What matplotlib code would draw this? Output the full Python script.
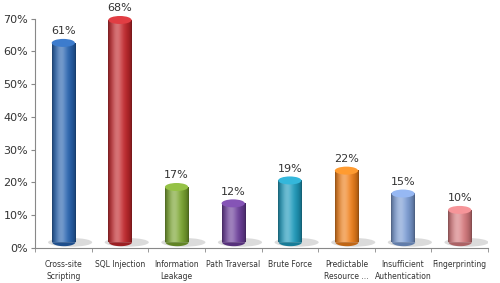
import matplotlib
matplotlib.use("Agg")
import matplotlib.pyplot as plt
import numpy as np
from matplotlib.patches import Ellipse
from matplotlib.colors import to_rgb

categories = ["Cross-site\nScripting", "SQL Injection", "Information\nLeakage",
              "Path Traversal", "Brute Force", "Predictable\nResource ...",
              "Insufficient\nAuthentication", "Fingerprinting"]
values = [61, 68, 17, 12, 19, 22, 15, 10]
colors = ["#2763b0", "#c3272c", "#7aa52f", "#6b3d9a", "#1e9bbd", "#f0801a", "#7b9cd4", "#d77a7e"]
yticks = [0, 10, 20, 30, 40, 50, 60, 70]

fig = plt.figure(figsize=(5, 2.83), dpi=100)
ax = fig.add_axes([0.07, 0.124, 0.906, 0.81])

n = len(values)
x = np.arange(n)
w = 0.41
ax.set_xlim(-0.5, n - 0.5)
ax.set_ylim(0, 70)

px_per_unit = (0.81 * 283) / 70.0
eh = 8.0 / px_per_unit  # ellipse height in data units
lift = 1.6

def shade(c, t):
    c = np.array(to_rgb(c))
    prof = np.exp(-((t - 0.38) ** 2) / 0.06)
    dark = 0.55 + 0.45 * np.sin(np.pi * t) ** 0.5
    col = c * dark[:, None]
    col = col + (1 - col) * 0.35 * prof[:, None]
    return np.clip(col, 0, 1)

for xi, v, c in zip(x, values, colors):
    y0 = lift + 0.3
    sh = Ellipse((xi + 0.12, y0 - 0.2), w * 1.9, eh * 1.1, color="#c4c4c4", alpha=0.6, zorder=1, lw=0)
    ax.add_patch(sh)
    t = np.linspace(0, 1, 64)
    img = shade(c, t)[None, :, :]
    ytop = v + lift
    im = ax.imshow(img, extent=[xi - w / 2, xi + w / 2, y0, ytop], aspect="auto", zorder=2,
                   interpolation="bilinear")
    im.set_clip_on(False)
    tt = np.linspace(0, np.pi, 40)
    ax.fill_between(xi - (w / 2) * np.cos(tt), y0, y0 - (eh / 2) * np.sin(tt),
                    color=tuple(np.array(to_rgb(c)) * 0.8), zorder=2, lw=0)
    top = Ellipse((xi, ytop), w, eh, color=tuple(np.clip(np.array(to_rgb(c)) * 1.05 + 0.08, 0, 1)),
                  zorder=3, lw=0, clip_on=False)
    ax.add_patch(top)
    ax.text(xi, ytop + eh / 2 + 0.8, f"{v}%", ha="center", va="bottom", fontsize=8, color="#333333")

ax.set_ylim(0, 70)
ax.set_yticks(yticks)
ax.set_yticklabels([f"{t}%" for t in yticks], fontsize=8, color="#333333")
ax.set_xticks(x)
ax.set_xticklabels(categories, fontsize=5.5, color="#333333", linespacing=1.3)
ax.tick_params(axis="x", length=0, pad=9)
ax.set_xticks(np.arange(-0.5, n, 1), minor=True)
ax.tick_params(axis="x", which="minor", length=3, color="#888888")
ax.tick_params(axis="y", length=3, color="#888888", pad=2)
for s in ["top", "right"]:
    ax.spines[s].set_visible(False)
ax.spines["left"].set_color("#888888")
ax.spines["bottom"].set_color("#888888")

fig.savefig("out.png", dpi=100)
